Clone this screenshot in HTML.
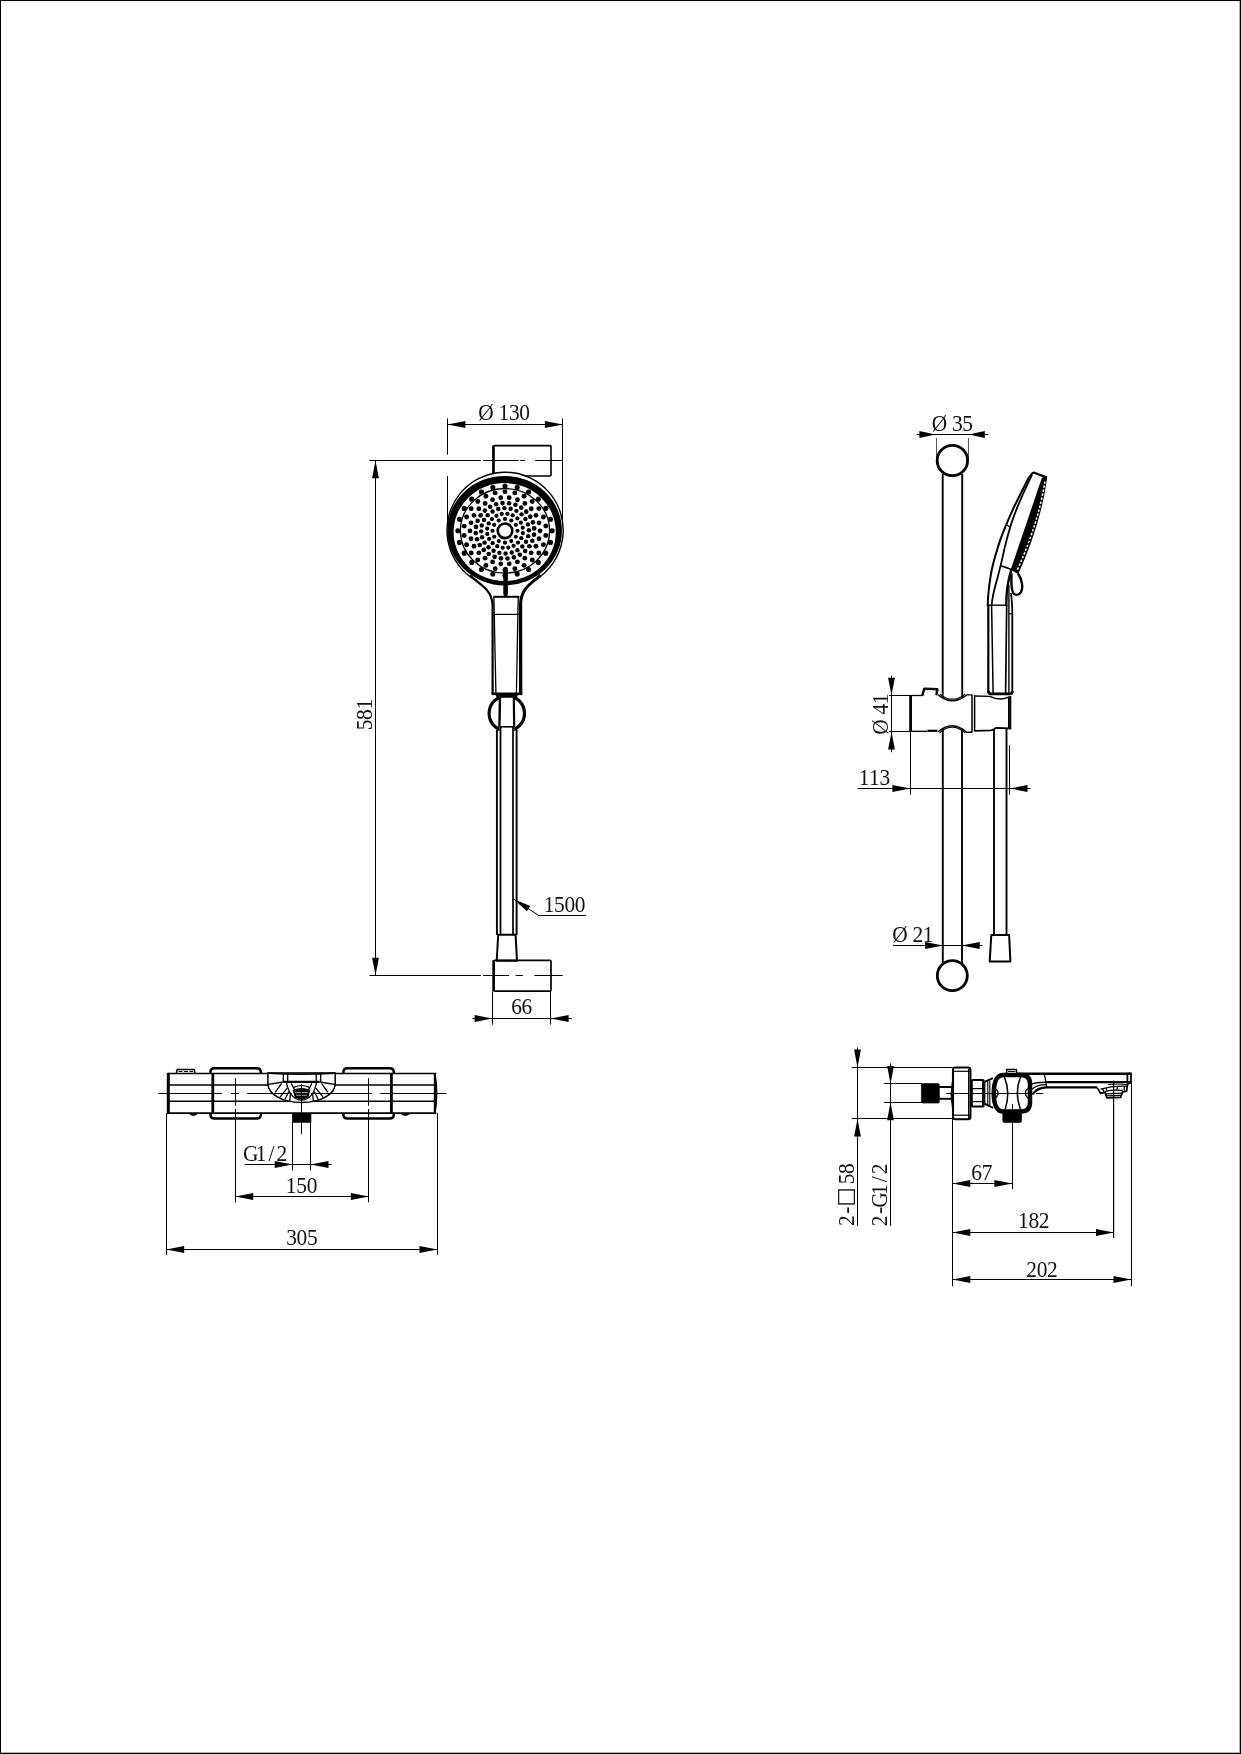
<!DOCTYPE html>
<html lang="en">
<head>
<meta charset="utf-8">
<title>Shower set dimension drawing</title>
<style>
html,body{margin:0;padding:0;background:#fff;}
body{width:1241px;height:1754px;overflow:hidden;position:relative;}
#sheet{position:absolute;left:0;top:0;width:1241px;height:1754px;box-sizing:border-box;border:1px solid #000;background:#fff;}
svg{position:absolute;left:0;top:0;display:block;will-change:transform;}
svg *{vector-effect:none;}

svg text{font-family:"Liberation Serif","DejaVu Sans",serif;fill:#111;stroke:none;}
svg text .cj{font-family:"Noto Sans CJK SC","Noto Serif CJK SC","DejaVu Sans",sans-serif;font-size:19px;stroke:#111;stroke-width:.55px;}
svg .a{fill:#000;stroke:none;}
svg .d{fill:#000;stroke:none;}
svg .w{fill:#fff;stroke:none;}
svg .wd{stroke:#fff;stroke-width:1.5;stroke-dasharray:2.4 1.7;fill:none;}
</style>
</head>
<body>
<div id="sheet"></div>
<svg width="1241" height="1754" viewBox="0 0 1241 1754" fill="none" stroke="#000" stroke-linecap="butt">
<rect class="a" x="1239.7" y="0" width="1.3" height="1754"/><rect class="a" x="0" y="1752.7" width="1241" height="1.3"/>
<g id="front-view">
<line x1="447.5" y1="424.5" x2="562.7" y2="424.5" stroke-width="1"/>
<polygon class="a" points="447.5,424.5 465.3,421.1 465.3,427.9"/>
<polygon class="a" points="562.7,424.5 544.9,427.9 544.9,421.1"/>
<line x1="447.5" y1="418.4" x2="447.5" y2="454.7" stroke-width="1"/>
<line x1="447.5" y1="476" x2="447.5" y2="531" stroke-width="1"/>
<line x1="562.5" y1="418.4" x2="562.5" y2="531" stroke-width="1"/>
<text x="8.44 27.08 37.92 48.75" y="0" font-size="22.3" text-anchor="middle" transform="translate(477.9 419.6) scale(0.96 1)">&#216;130</text>
<rect x="493.6" y="445.6" width="57.4" height="30.4" rx="1" stroke-width="1.6" fill="none"/>
<line x1="493.4" y1="445.6" x2="493.4" y2="476" stroke-width="2.6"/>
<line x1="369.4" y1="460.5" x2="480.8" y2="460.5" stroke-width="1"/>
<line x1="483.2" y1="460.5" x2="518.8" y2="460.5" stroke-width="1"/>
<line x1="520.2" y1="460.5" x2="525" y2="460.5" stroke-width="1"/>
<line x1="535.2" y1="460.5" x2="562.7" y2="460.5" stroke-width="1"/>
<circle class="w" cx="505" cy="530.8" r="58"/>
<path d="M476.4 580.8 A58.1 58.1 0 1 1 535.8 579.6" stroke-width="1.4" fill="none"/>
<path class="a" fill-rule="evenodd" d="M447.35 530.65 a57.3 54.75 0 1 0 114.6 0 a57.3 54.75 0 1 0 -114.6 0 Z M453.6 532 a51.1 48.95 0 1 0 102.2 0 a51.1 48.95 0 1 0 -102.2 0 Z"/>
<ellipse cx="505" cy="530.8" rx="44.6" ry="42.3" stroke-width="1.3"/>
<circle cx="505" cy="530.8" r="7.3" stroke-width="2.6" fill="none"/>
<g><circle cx="552.1" cy="530.8" r="2.57" class="d"/><circle cx="550.5" cy="542.38" r="2.57" class="d"/><circle cx="545.79" cy="553.17" r="2.57" class="d"/><circle cx="538.3" cy="562.44" r="2.57" class="d"/><circle cx="528.55" cy="569.55" r="2.57" class="d"/><circle cx="517.19" cy="574.02" r="2.57" class="d"/><circle cx="505" cy="575.54" r="2.57" class="d"/><circle cx="492.81" cy="574.02" r="2.57" class="d"/><circle cx="481.45" cy="569.55" r="2.57" class="d"/><circle cx="471.7" cy="562.44" r="2.57" class="d"/><circle cx="464.21" cy="553.17" r="2.57" class="d"/><circle cx="459.5" cy="542.38" r="2.57" class="d"/><circle cx="457.9" cy="530.8" r="2.57" class="d"/><circle cx="459.5" cy="519.22" r="2.57" class="d"/><circle cx="464.21" cy="508.43" r="2.57" class="d"/><circle cx="471.7" cy="499.16" r="2.57" class="d"/><circle cx="481.45" cy="492.05" r="2.57" class="d"/><circle cx="492.81" cy="487.58" r="2.57" class="d"/><circle cx="505" cy="486.05" r="2.57" class="d"/><circle cx="517.19" cy="487.58" r="2.57" class="d"/><circle cx="528.55" cy="492.05" r="2.57" class="d"/><circle cx="538.3" cy="499.16" r="2.57" class="d"/><circle cx="545.79" cy="508.43" r="2.57" class="d"/><circle cx="550.5" cy="519.22" r="2.57" class="d"/><circle cx="545.8" cy="535.49" r="2.47" class="d"/><circle cx="543.44" cy="544.63" r="2.47" class="d"/><circle cx="538.83" cy="552.97" r="2.47" class="d"/><circle cx="532.27" cy="560.02" r="2.47" class="d"/><circle cx="524.11" cy="565.37" r="2.47" class="d"/><circle cx="514.85" cy="568.71" r="2.47" class="d"/><circle cx="505.02" cy="569.84" r="2.47" class="d"/><circle cx="495.18" cy="568.71" r="2.47" class="d"/><circle cx="485.91" cy="565.38" r="2.47" class="d"/><circle cx="477.76" cy="560.04" r="2.47" class="d"/><circle cx="471.18" cy="552.99" r="2.47" class="d"/><circle cx="466.58" cy="544.66" r="2.47" class="d"/><circle cx="464.2" cy="535.52" r="2.47" class="d"/><circle cx="464.2" cy="526.11" r="2.47" class="d"/><circle cx="466.56" cy="516.97" r="2.47" class="d"/><circle cx="471.17" cy="508.63" r="2.47" class="d"/><circle cx="477.73" cy="501.58" r="2.47" class="d"/><circle cx="485.89" cy="496.23" r="2.47" class="d"/><circle cx="495.15" cy="492.89" r="2.47" class="d"/><circle cx="504.98" cy="491.76" r="2.47" class="d"/><circle cx="514.82" cy="492.89" r="2.47" class="d"/><circle cx="524.09" cy="496.22" r="2.47" class="d"/><circle cx="532.24" cy="501.56" r="2.47" class="d"/><circle cx="538.82" cy="508.61" r="2.47" class="d"/><circle cx="543.42" cy="516.94" r="2.47" class="d"/><circle cx="545.8" cy="526.08" r="2.47" class="d"/><circle cx="540" cy="530.8" r="2.42" class="d"/><circle cx="538.98" cy="538.76" r="2.42" class="d"/><circle cx="535.99" cy="546.25" r="2.42" class="d"/><circle cx="531.2" cy="552.85" r="2.42" class="d"/><circle cx="524.88" cy="558.16" r="2.42" class="d"/><circle cx="517.41" cy="561.89" r="2.42" class="d"/><circle cx="509.22" cy="563.81" r="2.42" class="d"/><circle cx="500.78" cy="563.81" r="2.42" class="d"/><circle cx="492.59" cy="561.89" r="2.42" class="d"/><circle cx="485.12" cy="558.16" r="2.42" class="d"/><circle cx="478.8" cy="552.85" r="2.42" class="d"/><circle cx="474.01" cy="546.25" r="2.42" class="d"/><circle cx="471.02" cy="538.76" r="2.42" class="d"/><circle cx="470" cy="530.8" r="2.42" class="d"/><circle cx="471.02" cy="522.84" r="2.42" class="d"/><circle cx="474.01" cy="515.35" r="2.42" class="d"/><circle cx="478.8" cy="508.75" r="2.42" class="d"/><circle cx="485.12" cy="503.44" r="2.42" class="d"/><circle cx="492.59" cy="499.71" r="2.42" class="d"/><circle cx="500.78" cy="497.79" r="2.42" class="d"/><circle cx="509.22" cy="497.79" r="2.42" class="d"/><circle cx="517.41" cy="499.71" r="2.42" class="d"/><circle cx="524.88" cy="503.44" r="2.42" class="d"/><circle cx="531.2" cy="508.75" r="2.42" class="d"/><circle cx="535.99" cy="515.35" r="2.42" class="d"/><circle cx="538.98" cy="522.84" r="2.42" class="d"/><circle cx="534.01" cy="534.67" r="2.32" class="d"/><circle cx="532.38" cy="540.71" r="2.32" class="d"/><circle cx="529.37" cy="546.25" r="2.32" class="d"/><circle cx="525.14" cy="551.01" r="2.32" class="d"/><circle cx="519.9" cy="554.77" r="2.32" class="d"/><circle cx="513.92" cy="557.32" r="2.32" class="d"/><circle cx="507.48" cy="558.54" r="2.32" class="d"/><circle cx="500.92" cy="558.36" r="2.32" class="d"/><circle cx="494.57" cy="556.81" r="2.32" class="d"/><circle cx="488.74" cy="553.95" r="2.32" class="d"/><circle cx="483.72" cy="549.94" r="2.32" class="d"/><circle cx="479.77" cy="544.96" r="2.32" class="d"/><circle cx="477.09" cy="539.27" r="2.32" class="d"/><circle cx="475.81" cy="533.16" r="2.32" class="d"/><circle cx="475.99" cy="526.93" r="2.32" class="d"/><circle cx="477.62" cy="520.89" r="2.32" class="d"/><circle cx="480.63" cy="515.35" r="2.32" class="d"/><circle cx="484.86" cy="510.59" r="2.32" class="d"/><circle cx="490.1" cy="506.83" r="2.32" class="d"/><circle cx="496.08" cy="504.28" r="2.32" class="d"/><circle cx="502.52" cy="503.06" r="2.32" class="d"/><circle cx="509.08" cy="503.24" r="2.32" class="d"/><circle cx="515.43" cy="504.79" r="2.32" class="d"/><circle cx="521.26" cy="507.65" r="2.32" class="d"/><circle cx="526.28" cy="511.66" r="2.32" class="d"/><circle cx="530.23" cy="516.64" r="2.32" class="d"/><circle cx="532.91" cy="522.33" r="2.32" class="d"/><circle cx="534.19" cy="528.44" r="2.32" class="d"/><circle cx="528.23" cy="536.14" r="2.22" class="d"/><circle cx="525.98" cy="541.67" r="2.22" class="d"/><circle cx="522.31" cy="546.46" r="2.22" class="d"/><circle cx="517.45" cy="550.18" r="2.22" class="d"/><circle cx="511.75" cy="552.58" r="2.22" class="d"/><circle cx="505.58" cy="553.5" r="2.22" class="d"/><circle cx="499.38" cy="552.87" r="2.22" class="d"/><circle cx="493.56" cy="550.73" r="2.22" class="d"/><circle cx="488.52" cy="547.24" r="2.22" class="d"/><circle cx="484.6" cy="542.63" r="2.22" class="d"/><circle cx="482.07" cy="537.21" r="2.22" class="d"/><circle cx="481.11" cy="531.35" r="2.22" class="d"/><circle cx="481.77" cy="525.46" r="2.22" class="d"/><circle cx="484.02" cy="519.93" r="2.22" class="d"/><circle cx="487.69" cy="515.14" r="2.22" class="d"/><circle cx="492.55" cy="511.42" r="2.22" class="d"/><circle cx="498.25" cy="509.02" r="2.22" class="d"/><circle cx="504.42" cy="508.1" r="2.22" class="d"/><circle cx="510.62" cy="508.73" r="2.22" class="d"/><circle cx="516.44" cy="510.87" r="2.22" class="d"/><circle cx="521.48" cy="514.36" r="2.22" class="d"/><circle cx="525.4" cy="518.97" r="2.22" class="d"/><circle cx="527.93" cy="524.39" r="2.22" class="d"/><circle cx="528.89" cy="530.25" r="2.22" class="d"/><circle cx="522.85" cy="533.03" r="2.12" class="d"/><circle cx="521.25" cy="538.16" r="2.12" class="d"/><circle cx="518.06" cy="542.57" r="2.12" class="d"/><circle cx="513.59" cy="545.83" r="2.12" class="d"/><circle cx="508.28" cy="547.61" r="2.12" class="d"/><circle cx="502.65" cy="547.75" r="2.12" class="d"/><circle cx="497.25" cy="546.23" r="2.12" class="d"/><circle cx="492.61" cy="543.2" r="2.12" class="d"/><circle cx="489.18" cy="538.96" r="2.12" class="d"/><circle cx="487.3" cy="533.92" r="2.12" class="d"/><circle cx="487.15" cy="528.57" r="2.12" class="d"/><circle cx="488.75" cy="523.44" r="2.12" class="d"/><circle cx="491.94" cy="519.03" r="2.12" class="d"/><circle cx="496.41" cy="515.77" r="2.12" class="d"/><circle cx="501.72" cy="513.99" r="2.12" class="d"/><circle cx="507.35" cy="513.85" r="2.12" class="d"/><circle cx="512.75" cy="515.37" r="2.12" class="d"/><circle cx="517.39" cy="518.4" r="2.12" class="d"/><circle cx="520.82" cy="522.64" r="2.12" class="d"/><circle cx="522.7" cy="527.68" r="2.12" class="d"/><circle cx="517.5" cy="530.8" r="2.07" class="d"/><circle cx="515.83" cy="536.74" r="2.07" class="d"/><circle cx="511.25" cy="541.08" r="2.07" class="d"/><circle cx="505" cy="542.67" r="2.07" class="d"/><circle cx="498.75" cy="541.08" r="2.07" class="d"/><circle cx="494.17" cy="536.74" r="2.07" class="d"/><circle cx="492.5" cy="530.8" r="2.07" class="d"/><circle cx="494.17" cy="524.86" r="2.07" class="d"/><circle cx="498.75" cy="520.52" r="2.07" class="d"/><circle cx="505" cy="518.92" r="2.07" class="d"/><circle cx="511.25" cy="520.52" r="2.07" class="d"/><circle cx="515.83" cy="524.86" r="2.07" class="d"/></g>
<line x1="505.6" y1="569" x2="505.6" y2="594" stroke-width="4.6" stroke-linecap="round"/>
<path d="M470 575.2 Q473 578.2 476.2 580.6 C484 586.5 491.4 592 492.6 604" stroke-width="2.2" fill="none"/>
<path d="M540.6 575 Q538.4 577.4 535.6 579.4 C527 586 521 592 520.5 604" stroke-width="3" fill="none"/>
<line x1="493.2" y1="596.8" x2="519.4" y2="596.8" stroke-width="2"/>
<line x1="492.6" y1="603" x2="492.6" y2="694" stroke-width="2.2"/>
<line x1="520.5" y1="603" x2="520.7" y2="694" stroke-width="3.3"/>
<line x1="493.9" y1="597" x2="495.9" y2="693" stroke-width="1.3"/>
<line x1="518.2" y1="597" x2="516.4" y2="693" stroke-width="1.3"/>
<line x1="492.6" y1="614.4" x2="520.9" y2="614.4" stroke-width="1.2"/>
<line x1="491.6" y1="693.8" x2="522.2" y2="693.8" stroke-width="2.6"/>
<path d="M495.8 694.6 L517.8 694.6 L516.2 697.4 L497.2 697.4 Z" stroke-width="1" fill="#000"/>
<ellipse cx="506.8" cy="713.4" rx="17.7" ry="17.6" stroke-width="3.2"/>
<rect class="w" x="499.6" y="697.8" width="14.6" height="35.8"/>
<line x1="500" y1="697" x2="499.4" y2="727.4" stroke-width="2.4"/>
<line x1="513.8" y1="697" x2="514.2" y2="727.4" stroke-width="2.2"/>
<line x1="500.4" y1="726.8" x2="513.4" y2="726.8" stroke-width="1.6"/>
<line x1="496.9" y1="729.8" x2="496.9" y2="935" stroke-width="1.9"/>
<line x1="500.5" y1="727" x2="500.5" y2="935" stroke-width="1.8"/>
<line x1="513" y1="727" x2="513" y2="935" stroke-width="1.7"/>
<line x1="516.6" y1="729.8" x2="516.6" y2="935" stroke-width="1.9"/>
<path d="M498.2 934.8 L515.6 934.8 L517 960.8 L496.7 960.8 Z" stroke-width="2" fill="none" stroke-linejoin="round"/>
<rect x="493.8" y="960.3" width="57.2" height="30.8" rx="1" stroke-width="1.7" fill="none"/>
<line x1="493.6" y1="960.3" x2="493.6" y2="991.1" stroke-width="2.6"/>
<line x1="369.4" y1="975.5" x2="480.8" y2="975.5" stroke-width="1"/>
<line x1="483" y1="975.5" x2="509" y2="975.5" stroke-width="1"/>
<line x1="515.6" y1="975.5" x2="522.8" y2="975.5" stroke-width="1"/>
<line x1="534.4" y1="975.5" x2="562.7" y2="975.5" stroke-width="1"/>
<line x1="375.5" y1="460.7" x2="375.5" y2="975.4" stroke-width="1"/>
<polygon class="a" points="375.5,460.5 378.9,478.3 372.1,478.3"/>
<polygon class="a" points="375.5,975.6 372.1,957.8 378.9,957.8"/>
<text x="5.42 16.25 27.08" y="0" font-size="22.3" text-anchor="middle" transform="translate(371.9 730.2) rotate(-90) scale(0.96 1)">581</text>
<line x1="513.4" y1="898.9" x2="538.1" y2="915.1" stroke-width="1"/>
<line x1="538.1" y1="915.5" x2="585.9" y2="915.5" stroke-width="1"/>
<polygon class="a" points="513.4,898.9 530.25,905.96 526.92,911.19"/>
<text x="5.42 16.25 27.08 37.92" y="0" font-size="22.3" text-anchor="middle" transform="translate(543.8 911.5) scale(0.96 1)">1500</text>
<line x1="492.5" y1="991.3" x2="492.5" y2="1024.6" stroke-width="1"/>
<line x1="550.5" y1="991.3" x2="550.5" y2="1024.6" stroke-width="1"/>
<line x1="472.5" y1="1018.5" x2="571.8" y2="1018.5" stroke-width="1"/>
<polygon class="a" points="492.4,1018.5 474.6,1021.9 474.6,1015.1"/>
<polygon class="a" points="550.8,1018.5 568.6,1015.1 568.6,1021.9"/>
<text x="5.42 16.25" y="0" font-size="22.3" text-anchor="middle" transform="translate(511.3 1013.8) scale(0.96 1)">66</text>
</g>
<g id="side-view">
<line x1="916.6" y1="434.5" x2="988.3" y2="434.5" stroke-width="1"/>
<polygon class="a" points="935.6,434.5 919.4,437.9 919.4,431.1"/>
<polygon class="a" points="968.6,434.5 984.8,431.1 984.8,437.9"/>
<line x1="936.5" y1="438" x2="936.5" y2="460" stroke-width="1" stroke="#555"/>
<line x1="968.5" y1="438" x2="968.5" y2="460" stroke-width="1" stroke="#555"/>
<text x="8.44 27.08 37.92" y="0" font-size="22.3" text-anchor="middle" transform="translate(931.3 431.4) scale(0.96 1)">&#216;35</text>
<line x1="942.7" y1="474" x2="942.7" y2="698" stroke-width="1.9"/>
<line x1="962.2" y1="474" x2="962.2" y2="698" stroke-width="1.9"/>
<circle cx="952.4" cy="460.5" r="15.2" stroke-width="2.8" fill="#fff"/>
<line x1="942.8" y1="729" x2="942.8" y2="963" stroke-width="1.9"/>
<line x1="962" y1="729" x2="962" y2="963" stroke-width="1.9"/>
<circle cx="952.3" cy="975.7" r="15" stroke-width="2.8" fill="#fff"/>
<path d="M1033 472.3 L1028.4 478.2 C1023 489 1017 501 1013.8 507.4 C1009 518 1003 532 1000.1 540.3 C995 556 991 573 990.5 576.8 C988.6 589 987.8 598 987.7 606" stroke-width="2" fill="none"/>
<path d="M1032 474.8 C1028 483 1021 498 1016.5 509.3 C1012 520 1007 538 1004.7 547.6 C1002 560 999 573 996.5 581.4 C993.5 592 992 599 991.7 605.1" stroke-width="1.8" fill="none"/>
<line x1="1006.6" y1="524.6" x2="1009.6" y2="527" stroke-width="1.2"/>
<line x1="1033" y1="472.3" x2="1046.4" y2="477.4" stroke-width="2.3"/>
<path d="M1042.5 478.2 L1046.5 477.3 Q1040.6 522.6 1017.9 573.1 L1011.5 569.5 Z" stroke-width="1.4" fill="#000"/>
<path class="wd" d="M1044.9 481.5 Q1038.6 522.6 1017.0 570.6"/>
<line x1="1001" y1="565.8" x2="1011.6" y2="569.6" stroke-width="1.6"/>
<path d="M1018 573.5 C1022.4 580 1023.4 588 1020.8 592.4 C1018.4 596 1014.4 595.4 1012.9 592.6 C1011.4 588 1011.2 580 1011.6 573.5" stroke-width="2.4" fill="none"/>
<path d="M1011.5 569.5 C1009 577 1007 588 1006.5 596.9 L1006.3 606" stroke-width="2.4" fill="none"/>
<path d="M1011 593 C1011.8 600 1012.3 606 1012.3 612 L1012.3 693" stroke-width="1.8" fill="none"/>
<line x1="987.7" y1="605.2" x2="1006.5" y2="605.2" stroke-width="1.4"/>
<line x1="988.3" y1="605" x2="988.3" y2="693" stroke-width="2.2"/>
<line x1="991.6" y1="605" x2="993.1" y2="693" stroke-width="1.5"/>
<line x1="1006.7" y1="605" x2="1005.6" y2="693" stroke-width="1.7"/>
<line x1="1008.9" y1="585" x2="1008.9" y2="693" stroke-width="1.4"/>
<line x1="1008.9" y1="613.8" x2="1012.3" y2="613.8" stroke-width="1.2"/>
<path d="M988.3 691 Q988.4 693.8 991 693.8 L1010 693.8 Q1012.3 693.8 1012.3 691" stroke-width="2.8" fill="none"/>
<line x1="910.6" y1="695.2" x2="910.6" y2="731.6" stroke-width="2.8"/>
<path d="M911 695.5 L922.2 695.5" stroke-width="1.3" fill="none"/>
<path d="M922.2 695.8 L924.3 688.6 L937.3 689.3 L936.4 695.2" stroke-width="2.4" fill="none" stroke-linejoin="round"/>
<path d="M938.2 694.9 Q952.2 706.7 966.7 694.9 L972 694.9" stroke-width="1.4" fill="none"/>
<path d="M939.9 694.1 Q952.2 704.3 965.1 694.1" stroke-width="1.2" fill="none"/>
<path d="M911 731.3 L927 731.3" stroke-width="1.3" fill="none"/>
<line x1="927.4" y1="730.8" x2="937.4" y2="730.8" stroke-width="2.2"/>
<path d="M938.2 731.8 Q952.2 719.3 966.7 732.2 L972 732.2" stroke-width="1.4" fill="none"/>
<path d="M939.6 732.8 Q952.2 721.5 965.4 733" stroke-width="1.2" fill="none"/>
<line x1="972" y1="694.8" x2="972" y2="732.4" stroke-width="1.5"/>
<line x1="974.6" y1="695.2" x2="974.6" y2="731.4" stroke-width="1.5"/>
<path d="M974.6 696 L989.9 696.4 Q999.6 701.4 1009.3 696.9" stroke-width="1.4" fill="none"/>
<line x1="1010.2" y1="696" x2="1010.2" y2="729.4" stroke-width="2.2"/>
<path d="M974.6 730.8 L990.9 730.3 C994 730 994.6 728 996.7 727.9 L1010.3 728.4" stroke-width="1.8" fill="none"/>
<line x1="1008.5" y1="697.8" x2="1008.5" y2="728" stroke-width="1"/>
<line x1="994" y1="729.2" x2="994" y2="935" stroke-width="1.9"/>
<line x1="1006.5" y1="728.4" x2="1006.5" y2="935" stroke-width="1.9"/>
<path d="M991.3 935 L1009.1 935 L1010.4 961.4 L989.7 961.4 Z" stroke-width="2" fill="none" stroke-linejoin="round"/>
<line x1="891.5" y1="675.6" x2="891.5" y2="752.2" stroke-width="1"/>
<polygon class="a" points="891.5,695.5 888.1,677.7 894.9,677.7"/>
<polygon class="a" points="891.5,731.8 894.9,749.6 888.1,749.6"/>
<line x1="889" y1="695.5" x2="911" y2="695.5" stroke-width="1"/>
<line x1="889" y1="731.5" x2="927" y2="731.5" stroke-width="1"/>
<text x="8.44 27.08 37.92" y="0" font-size="22.3" text-anchor="middle" transform="translate(887.9 735.2) rotate(-90) scale(0.96 1)">&#216;41</text>
<line x1="857.7" y1="788.5" x2="1030.6" y2="788.5" stroke-width="1"/>
<polygon class="a" points="910.2,788.5 892.4,791.9 892.4,785.1"/>
<polygon class="a" points="1009.7,788.5 1027.5,785.1 1027.5,791.9"/>
<line x1="910.5" y1="731.8" x2="910.5" y2="794.7" stroke-width="1"/>
<line x1="1009.5" y1="745.1" x2="1009.5" y2="794.7" stroke-width="1"/>
<text x="5.42 16.25 27.08" y="0" font-size="22.3" text-anchor="middle" transform="translate(858.8 784.7) scale(0.96 1)">113</text>
<line x1="893" y1="945.5" x2="982.5" y2="945.5" stroke-width="1"/>
<polygon class="a" points="943,945.5 925.2,948.9 925.2,942.1"/>
<polygon class="a" points="961.9,945.5 979.7,942.1 979.7,948.9"/>
<text x="8.44 27.08 37.92" y="0" font-size="22.3" text-anchor="middle" transform="translate(891.8 942.2) scale(0.96 1)">&#216;21</text>
</g>
<g id="mixer-front">
<line x1="168.2" y1="1073.5" x2="436.3" y2="1073.5" stroke-width="1.6"/>
<line x1="168.2" y1="1113.1" x2="436.3" y2="1113.1" stroke-width="1.9"/>
<line x1="168.3" y1="1072.9" x2="168.3" y2="1113.9" stroke-width="3"/>
<path d="M434.6 1073.5 L434.6 1113.1" stroke-width="1.6" fill="none"/>
<path d="M435.2 1074 Q438.4 1093 435.2 1112.6 Z" stroke-width="1.2" fill="#000"/>
<line x1="169" y1="1085.1" x2="434.6" y2="1085.1" stroke-width="1.5"/>
<line x1="169" y1="1101.2" x2="434.6" y2="1101.2" stroke-width="1.5"/>
<line x1="158.2" y1="1093.5" x2="222" y2="1093.5" stroke-width="1"/>
<line x1="231" y1="1093.5" x2="239" y2="1093.5" stroke-width="1"/>
<line x1="247.2" y1="1093.5" x2="371.9" y2="1093.5" stroke-width="1"/>
<line x1="380.4" y1="1093.5" x2="446.4" y2="1093.5" stroke-width="1"/>
<path d="M176.3 1073 L177.2 1069.6 L194.2 1069.6 L195 1073" stroke-width="1.5" fill="none"/>
<line x1="178.5" y1="1071.5" x2="193" y2="1071.5" stroke-width="1" stroke-dasharray="4 1.5"/>
<path d="M189.2 1113.6 Q193.4 1117.4 197.6 1113.6 Z" stroke-width="0.8" fill="#000"/>
<path d="M400.7 1113.6 Q405.2 1117.4 409.8 1113.6 Z" stroke-width="0.8" fill="#000"/>
<path d="M210.4 1073.5 L210.4 1072.2 Q210.4 1068.2 214.4 1068.2 L256.8 1068.2 Q260.8 1068.2 260.8 1072.2 L260.8 1073.5" stroke-width="2.5" fill="none"/><path d="M210.4 1113.1 L210.4 1114.6 Q210.4 1118.6 214.4 1118.6 L256.8 1118.6 Q260.8 1118.6 260.8 1114.6 L260.8 1113.1" stroke-width="2.5" fill="none"/><line x1="212.8" y1="1073.5" x2="212.8" y2="1113.1" stroke-width="2.8"/>
<path d="M343.4 1073.5 L343.4 1072.2 Q343.4 1068.2 347.4 1068.2 L389.8 1068.2 Q393.8 1068.2 393.8 1072.2 L393.8 1073.5" stroke-width="2.5" fill="none"/><path d="M343.4 1113.1 L343.4 1114.6 Q343.4 1118.6 347.4 1118.6 L389.8 1118.6 Q393.8 1118.6 393.8 1114.6 L393.8 1113.1" stroke-width="2.5" fill="none"/><line x1="391.4" y1="1073.5" x2="391.4" y2="1113.1" stroke-width="2.8"/>
<path d="M267.9 1073 L267.9 1084.4 C268.6 1093.5 281 1102.4 301.55 1102.4 C322 1102.4 334.6 1093.5 335.2 1084.4 L335.2 1073 Z" stroke-width="1.5" fill="#fff"/>
<line x1="268" y1="1093.5" x2="292" y2="1093.5" stroke-width="1"/>
<line x1="311" y1="1093.5" x2="335" y2="1093.5" stroke-width="1"/>
<path d="M267.9 1073.2 Q301.5 1075.2 335.2 1073.2" stroke-width="1.6" fill="none"/>
<path d="M267.9 1084.4 Q276 1083.4 283.2 1081.9" stroke-width="1.3" fill="none"/>
<path d="M335.2 1084.4 Q327 1083.4 319.5 1081.9" stroke-width="1.3" fill="none"/>
<line x1="283.2" y1="1081.9" x2="319.6" y2="1081.9" stroke-width="2.2"/>
<line x1="283.3" y1="1073.5" x2="283.3" y2="1081.9" stroke-width="1.3"/>
<line x1="287.7" y1="1073.5" x2="287.7" y2="1081.9" stroke-width="1.3"/>
<line x1="316.2" y1="1073.5" x2="316.2" y2="1081.9" stroke-width="1.3"/>
<line x1="320.7" y1="1073.5" x2="320.7" y2="1081.9" stroke-width="1.3"/>
<path d="M286.4 1082.6 C288.6 1093 294 1100 301.55 1100.2 C309 1100 314.4 1093 316.6 1082.6" stroke-width="1.3" fill="none"/>
<line x1="281.6" y1="1083.4" x2="275.2" y2="1092.4" stroke-width="1.3"/>
<line x1="321.5" y1="1083.4" x2="327.9" y2="1092.4" stroke-width="1.3"/>
<line x1="287.2" y1="1088.2" x2="280" y2="1097.1" stroke-width="1.3"/>
<line x1="315.9" y1="1088.2" x2="323.1" y2="1097.1" stroke-width="1.3"/>
<line x1="288.9" y1="1091.5" x2="284.8" y2="1099.5" stroke-width="1.3"/>
<line x1="314.2" y1="1091.5" x2="318.3" y2="1099.5" stroke-width="1.3"/>
<line x1="290.5" y1="1094" x2="289.7" y2="1101.2" stroke-width="1.3"/>
<line x1="312.6" y1="1094" x2="313.4" y2="1101.2" stroke-width="1.3"/>
<path d="M291.2 1083.4 L294.6 1089.8 M311.9 1083.4 L308.6 1089.8" stroke-width="1.3" fill="none"/>
<path d="M293.8 1087.4 Q301.5 1083.6 309.4 1087.4" stroke-width="1.2" fill="none"/>
<path d="M293.4 1090.2 Q301.5 1087 309.6 1090.2 L308 1097 Q301.5 1100.6 295.2 1097 Z" stroke-width="1.2" fill="#000"/>
<line x1="295.2" y1="1092.6" x2="307.8" y2="1092.6" stroke-width="0.7" stroke="#fff"/>
<line x1="296" y1="1095.3" x2="307" y2="1095.3" stroke-width="0.6" stroke="#fff"/>
<rect x="292.4" y="1113.4" width="18.6" height="9" stroke-width="0.6" fill="#000"/>
<line x1="292.5" y1="1122" x2="292.5" y2="1170.4" stroke-width="1"/>
<line x1="310.5" y1="1122" x2="310.5" y2="1170.4" stroke-width="1"/>
<line x1="301.5" y1="1084" x2="301.5" y2="1134.2" stroke-width="1"/>
<line x1="235.5" y1="1078.2" x2="235.5" y2="1105.6" stroke-width="1"/>
<line x1="235.5" y1="1109" x2="235.5" y2="1202.4" stroke-width="1"/>
<line x1="368.5" y1="1078.2" x2="368.5" y2="1105.6" stroke-width="1"/>
<line x1="368.5" y1="1109" x2="368.5" y2="1202.4" stroke-width="1"/>
<line x1="244.7" y1="1164.5" x2="331.7" y2="1164.5" stroke-width="1"/>
<polygon class="a" points="292.5,1164.5 274.7,1167.9 274.7,1161.1"/>
<polygon class="a" points="310.7,1164.5 328.5,1161.1 328.5,1167.9"/>
<text x="5.42 16.25 27.08 37.92" y="0" font-size="22.3" text-anchor="middle" transform="translate(245.4 1161) scale(0.96 1)">G1/2</text>
<line x1="235.4" y1="1196.5" x2="368.7" y2="1196.5" stroke-width="1"/>
<polygon class="a" points="235.4,1196.5 253.2,1193.1 253.2,1199.9"/>
<polygon class="a" points="368.7,1196.5 350.9,1199.9 350.9,1193.1"/>
<text x="5.42 16.25 27.08" y="0" font-size="22.3" text-anchor="middle" transform="translate(286 1192.9) scale(0.96 1)">150</text>
<line x1="166.4" y1="1249.5" x2="437.3" y2="1249.5" stroke-width="1"/>
<polygon class="a" points="166.4,1249.5 184.2,1246.1 184.2,1252.9"/>
<polygon class="a" points="437.3,1249.5 419.5,1252.9 419.5,1246.1"/>
<line x1="166.5" y1="1113" x2="166.5" y2="1254.8" stroke-width="1"/>
<line x1="437.5" y1="1113" x2="437.5" y2="1254.8" stroke-width="1"/>
<text x="5.42 16.25 27.08" y="0" font-size="22.3" text-anchor="middle" transform="translate(286.3 1245.2) scale(0.96 1)">305</text>
</g>
<g id="mixer-side">
<line x1="857.5" y1="1047.4" x2="857.5" y2="1225.9" stroke-width="1"/>
<polygon class="a" points="857.5,1067.4 854.1,1049.6 860.9,1049.6"/>
<polygon class="a" points="857.5,1118.7 860.9,1136.5 854.1,1136.5"/>
<line x1="851.7" y1="1067.5" x2="952.6" y2="1067.5" stroke-width="1"/>
<line x1="851.7" y1="1118.5" x2="952.6" y2="1118.5" stroke-width="1"/>
<text x="5.42 16.25 30.1 48.75 59.58" y="0" font-size="22.3" text-anchor="middle" transform="translate(854 1225.8) rotate(-90) scale(0.96 1)">2-<tspan class="cj">&#9633;</tspan>58</text>
<line x1="890.5" y1="1063.4" x2="890.5" y2="1225.9" stroke-width="1"/>
<polygon class="a" points="890.5,1083.9 887.1,1066.1 893.9,1066.1"/>
<polygon class="a" points="890.5,1102.5 893.9,1120.3 887.1,1120.3"/>
<line x1="884.2" y1="1083.5" x2="922" y2="1083.5" stroke-width="1"/>
<line x1="884.2" y1="1102.5" x2="922" y2="1102.5" stroke-width="1"/>
<text x="5.42 16.25 27.08 37.92 48.75 59.58" y="0" font-size="22.3" text-anchor="middle" transform="translate(887 1226) rotate(-90) scale(0.96 1)">2-G1/2</text>
<rect x="921.4" y="1083.5" width="18" height="19.6" rx="1.6" stroke-width="0.6" fill="#000"/>
<line x1="939" y1="1087" x2="951.5" y2="1087" stroke-width="2"/>
<line x1="939" y1="1098.8" x2="951.5" y2="1098.8" stroke-width="2"/>
<line x1="946.3" y1="1093.5" x2="1029" y2="1093.5" stroke-width="1"/>
<path d="M952.4 1081.2 Q949.4 1094 952.4 1107.2 Z" stroke-width="0.8" fill="#000"/>
<rect x="953" y="1067.5" width="17.4" height="51.8" rx="2.2" stroke-width="2.1" fill="#fff"/>
<line x1="953.4" y1="1071.3" x2="970.2" y2="1071.3" stroke-width="1.2"/>
<line x1="953.4" y1="1115.2" x2="970.2" y2="1115.2" stroke-width="1.2"/>
<line x1="968.5" y1="1069" x2="968.5" y2="1118" stroke-width="1"/>
<line x1="953.6" y1="1093.5" x2="968" y2="1093.5" stroke-width="1"/>
<rect x="971.8" y="1080" width="11.8" height="26.6" rx="0.8" stroke-width="2" fill="#fff"/>
<line x1="972" y1="1088.6" x2="983.4" y2="1088.6" stroke-width="1.2"/>
<line x1="972" y1="1101.6" x2="983.4" y2="1101.6" stroke-width="1.2"/>
<line x1="982.5" y1="1080.5" x2="982.5" y2="1106.2" stroke-width="1"/>
<line x1="972" y1="1093.5" x2="984" y2="1093.5" stroke-width="1"/>
<path d="M984.4 1081.8 L993 1078.2 M984.4 1103.6 L993 1107.8" stroke-width="2" fill="none"/>
<line x1="984.8" y1="1081.8" x2="984.8" y2="1103.6" stroke-width="1.2"/>
<line x1="987.8" y1="1081" x2="987.8" y2="1105" stroke-width="1.1"/>
<line x1="989.8" y1="1080.4" x2="989.8" y2="1105.6" stroke-width="1.1"/>
<line x1="1018" y1="1073.8" x2="1131.4" y2="1073.8" stroke-width="2.5"/>
<line x1="1046.2" y1="1082.2" x2="1130.6" y2="1082.2" stroke-width="2.2"/>
<rect x="1127.4" y="1073.6" width="3.6" height="8.8" stroke-width="1.8" fill="none"/>
<path d="M1030 1084.6 C1034 1082.6 1039 1082.2 1046.2 1082.2" stroke-width="1.4" fill="none"/>
<path d="M1031.6 1089.6 C1035 1085.8 1040 1084.6 1046.6 1084.6" stroke-width="1.2" fill="none"/>
<path d="M1032.4 1094.4 C1036 1089.4 1040 1087.4 1046.6 1087.4 L1097 1087.4" stroke-width="2.4" fill="none"/>
<line x1="1044.4" y1="1074.2" x2="1046.7" y2="1086.8" stroke-width="1.3"/>
<line x1="1036" y1="1093.5" x2="1043.4" y2="1093.5" stroke-width="1"/>
<path d="M1097 1087.6 C1098.6 1089 1099.6 1091.4 1100.4 1093.4 L1105.2 1092.4 L1106.8 1097.8 L1120.6 1097.4 L1122.6 1091.8 L1126.6 1091.2 L1127.6 1084.2 L1131 1082.6" stroke-width="1.7" fill="none" stroke-linejoin="round"/>
<path d="M1100.6 1089.2 Q1113 1085.4 1127 1086.2" stroke-width="1.3" fill="none"/>
<path d="M1105 1091.4 Q1113 1089.6 1122.8 1090.4" stroke-width="1.3" fill="none"/>
<path d="M1105.8 1093.8 L1122 1093.2 M1106.4 1095.8 L1121.2 1095.4" stroke-width="1.2" fill="none"/>
<path d="M1102.4 1088.8 L1104.4 1092.4 M1106 1087.8 L1107 1091 M1117.6 1086 L1117 1090 M1124.2 1086.2 L1124.4 1090.6" stroke-width="1.3" fill="none"/>
<path d="M1108 1084.4 Q1118 1083.6 1127.4 1084.6" stroke-width="1" fill="none"/>
<path d="M1002.6 1074.9 L1021 1074.9 Q1030 1074.9 1030 1083.9 L1030 1102.6 Q1030 1111.6 1021 1111.6 L1002.6 1111.6 Q993.8 1110.6 993.8 1093.2 Q993.8 1075.8 1002.6 1074.9 Z" stroke-width="4.5" fill="#fff"/>
<path d="M1004.3 1076.6 Q1010.8 1092.8 1005.1 1109.4" stroke-width="1.5" fill="none"/>
<path d="M1020.6 1076.6 Q1014.2 1092.8 1020.4 1109.4" stroke-width="1.5" fill="none"/>
<line x1="996" y1="1093.5" x2="1028" y2="1093.5" stroke-width="1"/>
<path d="M995.4 1088.2 Q1001 1093.2 995.4 1098.2" stroke-width="1.4" fill="none"/>
<path d="M1028.6 1087.8 Q1022 1093.2 1028.6 1098.6" stroke-width="1.4" fill="none"/>
<path d="M1006.4 1073.2 L1006.9 1069.5 L1016.3 1069.5 L1016.8 1073.2" stroke-width="1.5" fill="none"/>
<line x1="1008" y1="1071.5" x2="1015.4" y2="1071.5" stroke-width="1"/>
<rect x="1002.7" y="1111.5" width="18.9" height="11.1" rx="1.8" stroke-width="0.6" fill="#000"/>
<line x1="1012.5" y1="1104.2" x2="1012.5" y2="1189" stroke-width="1"/>
<line x1="952.5" y1="1119" x2="952.5" y2="1286.3" stroke-width="1"/>
<line x1="1113.6" y1="1080.4" x2="1113.6" y2="1238" stroke-width="1.2"/>
<line x1="1131.5" y1="1082" x2="1131.5" y2="1286.3" stroke-width="1"/>
<line x1="952.5" y1="1183.5" x2="1012.2" y2="1183.5" stroke-width="1"/>
<polygon class="a" points="952.5,1183.5 970.3,1180.1 970.3,1186.9"/>
<polygon class="a" points="1012.2,1183.5 994.4,1186.9 994.4,1180.1"/>
<text x="5.42 16.25" y="0" font-size="22.3" text-anchor="middle" transform="translate(971.4 1180) scale(0.96 1)">67</text>
<line x1="952.5" y1="1232.5" x2="1113.8" y2="1232.5" stroke-width="1"/>
<polygon class="a" points="952.5,1232.5 970.3,1229.1 970.3,1235.9"/>
<polygon class="a" points="1113.8,1232.5 1096,1235.9 1096,1229.1"/>
<text x="5.42 16.25 27.08" y="0" font-size="22.3" text-anchor="middle" transform="translate(1018.2 1227.5) scale(0.96 1)">182</text>
<line x1="952.5" y1="1279.5" x2="1131.3" y2="1279.5" stroke-width="1"/>
<polygon class="a" points="952.5,1279.5 970.3,1276.1 970.3,1282.9"/>
<polygon class="a" points="1131.3,1279.5 1113.5,1282.9 1113.5,1276.1"/>
<text x="5.42 16.25 27.08" y="0" font-size="22.3" text-anchor="middle" transform="translate(1026.4 1277) scale(0.96 1)">202</text>
</g>
</svg>
</body>
</html>
